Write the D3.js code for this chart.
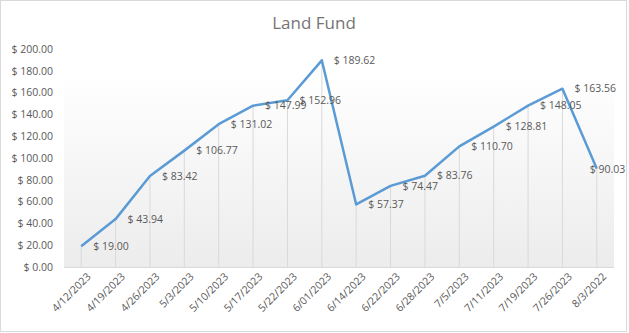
<!DOCTYPE html>
<html>
<head>
<meta charset="utf-8">
<script src="https://cdn.jsdelivr.net/npm/d3@7"></script>
<style>
  body { margin: 0; background: #fff; }
  svg text { font-family: "Open Sans", "Liberation Sans", sans-serif; }
</style>
</head>
<body>
<svg width="629" height="333"></svg>
<script>
// chart values
var dates = ["4/12/2023", "4/19/2023", "4/26/2023", "5/3/2023", "5/10/2023", "5/17/2023",
             "5/22/2023", "6/01/2023", "6/14/2023", "6/22/2023", "6/28/2023", "7/5/2023",
             "7/11/2023", "7/19/2023", "7/26/2023", "8/3/2022"];
var fund = [19.00, 43.94, 83.42, 106.77, 131.02, 147.99, 152.96, 189.62,
            57.37, 74.47, 83.76, 110.70, 128.81, 148.05, 163.56, 90.03];
var yTicks = [0, 20, 40, 60, 80, 100, 120, 140, 160, 180, 200];

var svg = d3.select('svg');

var plotLeft = 64, plotRight = 614, plotTop = 49, plotBottom = 267;

var xScale = d3.scaleBand()
    .domain(dates)
    .range([plotLeft, plotRight]);
var yScale = d3.scaleLinear()
    .domain([0, 200])
    .range([plotBottom, plotTop]);

var money = function(d) { return '$ ' + d3.format('.2f')(d); };

// outer border
svg.append('rect')
    .attr('x', 0.5).attr('y', 0.5)
    .attr('width', 626).attr('height', 331)
    .attr('fill', '#fff')
    .attr('stroke', '#d9d9d9');

// plot area gradient
var grad = svg.append('defs').append('linearGradient')
    .attr('id', 'bg').attr('x1', 0).attr('y1', 0).attr('x2', 0).attr('y2', 1);
grad.append('stop').attr('offset', '0%').attr('stop-color', '#ffffff');
grad.append('stop').attr('offset', '15%').attr('stop-color', '#ffffff');
grad.append('stop').attr('offset', '100%').attr('stop-color', '#ececec');

svg.append('rect')
    .attr('x', plotLeft).attr('y', plotTop - 10)
    .attr('width', plotRight - plotLeft).attr('height', plotBottom - plotTop + 10)
    .attr('fill', 'url(#bg)');

// title
svg.append('text')
    .attr('x', 314).attr('y', 29)
    .attr('text-anchor', 'middle')
    .attr('font-size', 17)
    .attr('fill', '#757575')
    .text('Land Fund');

// y axis
var yAxis = svg.append('g')
    .attr('transform', 'translate(' + plotLeft + ',0)')
    .call(d3.axisLeft(yScale).tickValues(yTicks).tickFormat(money).tickSize(0).tickPadding(11));
yAxis.select('.domain').remove();
yAxis.selectAll('text').attr('font-size', 10.5).attr('fill', '#595959');

// x axis
var xAxis = svg.append('g')
    .attr('transform', 'translate(0,' + plotBottom + ')')
    .call(d3.axisBottom(xScale).tickSize(0).tickPadding(6));
xAxis.select('.domain').attr('stroke', '#d9d9d9').attr('d', 'M' + plotLeft + ',0.5H' + plotRight);
xAxis.selectAll('text')
    .attr('font-size', 10.5)
    .attr('fill', '#595959')
    .attr('text-anchor', 'end')
    .attr('dy', 0)
    .attr('transform', 'translate(6,6) rotate(-45)');

var cx = function(d, i) { return xScale(dates[i]) + xScale.bandwidth() / 2; };

// drop lines
svg.append('g')
    .selectAll('line')
    .data(fund)
    .enter()
    .append('line')
        .attr('x1', cx).attr('x2', cx)
        .attr('y1', function(d) { return yScale(d); })
        .attr('y2', plotBottom)
        .attr('stroke', '#d9d9d9')
        .attr('stroke-width', 1);

// line
var line = d3.line()
    .x(cx)
    .y(function(d) { return yScale(d); });

svg.append('path')
    .datum(fund)
    .attr('d', line)
    .attr('fill', 'none')
    .attr('stroke', '#5b9bd5')
    .attr('stroke-width', 2.5)
    .attr('stroke-linejoin', 'round');

// data labels (the last one is pushed left to stay inside the chart)
svg.append('g')
    .selectAll('text')
    .data(fund)
    .enter()
    .append('text')
        .attr('x', function(d, i) { return i === fund.length - 1 ? cx(d, i) - 7 : cx(d, i) + 12; })
        .attr('y', function(d) { return yScale(d); })
        .attr('dy', '0.35em')
        .attr('font-size', 10.5)
        .attr('fill', '#595959')
        .text(money);
</script>
</body>
</html>
